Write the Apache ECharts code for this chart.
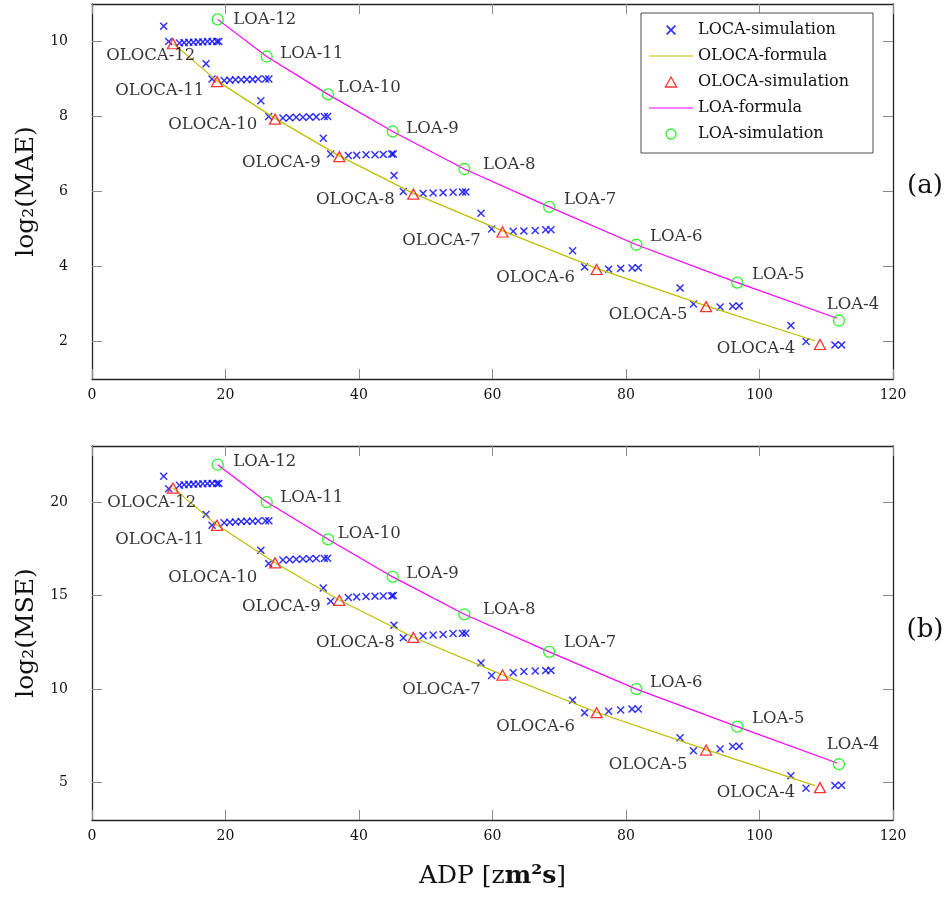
<!DOCTYPE html>
<html><head><meta charset="utf-8">
<script src="https://cdn.jsdelivr.net/npm/echarts@6/dist/echarts.min.js"></script>
<style>html,body{margin:0;padding:0;background:#fff}#c{width:948px;height:897px}</style>
</head><body><div id="c"></div>
<script>
// ---------------- data ----------------
const bits = [12, 11, 10, 9, 8, 7, 6, 5, 4];

const loaADP = [18.83, 26.17, 35.36, 45.05, 55.78, 68.5, 81.55, 96.67, 111.9];
const loaMAE = [10.59, 9.6, 8.59, 7.6, 6.6, 5.59, 4.58, 3.57, 2.56];
const loaMSE = [22, 20, 18.01, 16, 14, 11.99, 10, 7.99, 5.98];

const loaFormulaADP = [18.83, 26.17, 35.36, 45.05, 55.78, 68.5, 81.55, 96.67, 111.6];
const loaFormulaMAE = [10.59, 9.6, 8.59, 7.6, 6.6, 5.59, 4.58, 3.57, 2.62];
const loaFormulaMSE = [22, 20, 18.01, 16, 14, 11.99, 10, 7.99, 6.05];

const olocaADP = [12.13, 18.73, 27.42, 37.05, 48.14, 61.5, 75.6, 92.0, 109.06];
const olocaMAE = [9.94, 8.93, 7.93, 6.93, 5.93, 4.92, 3.92, 2.93, 1.92];
const olocaMSE = [20.75, 18.76, 16.75, 14.75, 12.76, 10.75, 8.74, 6.74, 4.73];

const olocaFormulaADP = [12.13, 18.73, 27.42, 37.05, 48.14, 61.5, 75.6, 92.0, 108.3];
const olocaFormulaMAE = [9.95, 8.95, 7.95, 6.95, 5.95, 4.95, 3.95, 2.95, 2.02];
const olocaFormulaMSE = [20.76, 18.77, 16.76, 14.76, 12.77, 10.76, 8.76, 6.76, 4.84];

const locaADP = [
  10.74, 11.49, 13.1, 13.8, 14.5, 15.2, 15.9, 16.6, 17.3, 18.0, 18.7, 19.0,
  17.08, 17.98, 19.8, 20.65, 21.5, 22.35, 23.2, 24.05, 24.9, 26.0, 26.5,
  25.3, 26.47, 28.6, 29.6, 30.6, 31.6, 32.6, 33.6, 34.8, 35.3,
  34.65, 35.76, 38.4, 39.65, 41.05, 42.4, 43.64, 44.9, 45.14,
  45.24, 46.64, 49.6, 51.1, 52.6, 54.1, 55.5, 56.0,
  58.28, 59.87, 63.1, 64.7, 66.4, 67.97, 68.76,
  72.0, 73.8, 77.4, 79.2, 80.9, 81.85,
  88.1, 90.1, 94.1, 95.98, 96.97,
  104.7, 106.97, 111.3, 112.3
];
const locaMAE = [
  10.41, 10.0, 9.96, 9.97, 9.98, 9.98, 9.99, 9.99, 10.0, 10.0, 10.0, 10.0,
  9.41, 9.0, 8.96, 8.97, 8.98, 8.98, 8.99, 8.99, 9.0, 9.0, 9.0,
  8.42, 8.0, 7.96, 7.97, 7.98, 7.98, 7.99, 7.99, 8.0, 8.0,
  7.42, 7.0, 6.96, 6.97, 6.98, 6.98, 6.99, 7.0, 7.0,
  6.43, 6.0, 5.95, 5.96, 5.97, 5.98, 5.99, 5.99,
  5.42, 5.0, 4.94, 4.95, 4.96, 4.98, 4.98,
  4.42, 3.99, 3.93, 3.95, 3.96, 3.97,
  3.43, 3.0, 2.92, 2.94, 2.95,
  2.43, 2.0, 1.91, 1.91
];
const locaMSE = [
  21.38, 20.71, 20.9, 20.93, 20.95, 20.96, 20.97, 20.98, 20.99, 21.0, 21.0, 21.0,
  19.34, 18.76, 18.9, 18.92, 18.94, 18.96, 18.97, 18.98, 18.99, 19.0, 19.0,
  17.42, 16.71, 16.9, 16.92, 16.94, 16.96, 16.97, 16.98, 16.99, 17.0,
  15.41, 14.7, 14.9, 14.93, 14.95, 14.97, 14.98, 14.99, 15.0,
  13.42, 12.74, 12.85, 12.89, 12.92, 12.97, 12.98, 12.99,
  11.4, 10.73, 10.88, 10.94, 10.97, 10.99, 11.0,
  9.41, 8.73, 8.82, 8.88, 8.93, 8.94,
  7.4, 6.7, 6.8, 6.93, 6.94,
  5.37, 4.7, 4.84, 4.86
];

const xTicks = [0, 20, 40, 60, 80, 100, 120];
const maeTicks = [2, 4, 6, 8, 10];
const mseTicks = [5, 10, 15, 20];

// ---------------- styles ----------------
const FONT = 'DejaVu Serif';
const TXT = '#111111';
const C_LOCA = '#0000ff', C_OF = '#bfbf00', C_OS = '#ff0000', C_LF = '#ff00ff', C_LS = '#00ee00';
const SYM_TRI = 11, SYM_CIR = 11, SYM_X = 8;
const CROSS = 'path://M0,1.3L1.3,0L5,3.7L8.7,0L10,1.3L6.3,5L10,8.7L8.7,10L5,6.3L1.3,10L0,8.7L3.7,5Z';
const TRI = 'path://M5,0L10,9L0,9Z';
const LINE_ICON = 'path://M0,0L44,0L44,1.2L0,1.2Z';

// label placement (px): [dx of label edge from marker centre, dy of label centre]
const olocaLabelShift = [
  [[23, 12], [-12, 9], [-17, 6], [-18, 6], [-18, 6], [-21, 9], [-21, 8], [-18, 8], [-24, 4]],
  [[24, 15], [-12, 14], [-17, 15], [-18, 6], [-18, 5], [-21, 15], [-21, 14], [-18, 15], [-24, 5]]
];
const loaLabelShift = [
  [[15, 0], [13, -3], [9, -7], [13, -3], [18, -4], [14, -7], [13, -8], [14, -8], [14, -16]],
  [[15, -3], [13, -4], [9, -6], [13, -3], [18, -5], [14, -9], [13, -6], [14, -8], [14, -19]]
];

function pts(xs, ys) { return xs.map((x, i) => [x, ys[i]]); }

function olocaData(ys, g) {
  return olocaADP.map((x, i) => ({
    name: 'OLOCA-' + bits[i],
    value: [x, ys[i]],
    label: { offset: [olocaLabelShift[g][i][0] + SYM_TRI / 2, olocaLabelShift[g][i][1]] }
  }));
}
function loaData(ys, g) {
  return loaADP.map((x, i) => {
    const s = loaLabelShift[g][i];
    const last = i === loaADP.length - 1;
    return {
      name: 'LOA-' + bits[i],
      value: [x, ys[i]],
      label: last
        ? { position: 'top', distance: 0, offset: [s[0], s[1] + 9 + SYM_CIR / 2] }
        : { position: 'right', distance: 0, offset: [s[0] - SYM_CIR / 2, s[1]] }
    };
  });
}

const labelStyle = { fontFamily: FONT, fontSize: 16.5, color: '#000000' };

function seriesFor(g, locaY, olocaY, olocaFY, loaY, loaFY) {
  return [
    { name: 'LOCA-simulation', type: 'scatter', xAxisIndex: 2 * g, yAxisIndex: 2 * g,
      symbol: CROSS, symbolSize: SYM_X, itemStyle: { color: C_LOCA, borderWidth: 0 },
      data: pts(locaADP, locaY), z: 2, silent: true },
    { name: 'OLOCA-formula', type: 'line', xAxisIndex: 2 * g, yAxisIndex: 2 * g,
      symbol: 'none', lineStyle: { color: C_OF, width: 1.2 }, itemStyle: { color: C_OF },
      data: pts(olocaFormulaADP, olocaFY), z: 3, silent: true },
    { name: 'OLOCA-simulation', type: 'scatter', xAxisIndex: 2 * g, yAxisIndex: 2 * g,
      symbol: TRI, symbolSize: [SYM_TRI, SYM_TRI - 1],
      itemStyle: { color: 'rgba(255,255,255,0)', borderColor: C_OS, borderWidth: 1.3 },
      label: Object.assign({ show: true, position: 'left', distance: 0, formatter: '{b}' }, labelStyle),
      data: olocaData(olocaY, g), z: 4, silent: true },
    { name: 'LOA-formula', type: 'line', xAxisIndex: 2 * g, yAxisIndex: 2 * g,
      symbol: 'none', lineStyle: { color: C_LF, width: 1.2 }, itemStyle: { color: C_LF },
      data: pts(loaFormulaADP, loaFY), z: 5, silent: true },
    { name: 'LOA-simulation', type: 'scatter', xAxisIndex: 2 * g, yAxisIndex: 2 * g,
      symbol: 'circle', symbolSize: SYM_CIR,
      itemStyle: { color: 'rgba(255,255,255,0)', borderColor: C_LS, borderWidth: 1.3 },
      label: Object.assign({ show: true, position: 'right', distance: 0, formatter: '{b}' }, labelStyle),
      data: loaData(loaY, g), z: 6, silent: true }
  ];
}

const frameLine = { show: true, onZero: false, lineStyle: { color: '#262626', width: 1.3 } };
const tickStyle = { show: true, inside: true, length: 10, lineStyle: { color: '#8a8a8a', width: 1 } };
const tickLabel = { fontFamily: FONT, fontSize: 14, color: TXT };

function xAxes(g, withName) {
  const base = { type: 'value', gridIndex: g, min: 0, max: 120, splitLine: { show: false }, axisLine: frameLine };
  return [
    Object.assign({}, base, {
      position: 'bottom',
      axisTick: Object.assign({ customValues: xTicks }, tickStyle),
      axisLabel: Object.assign({ customValues: xTicks, margin: 9 }, tickLabel),
      name: withName ? 'ADP [z{b|m²s}]' : '',
      nameLocation: 'middle', nameGap: 44,
      nameTextStyle: { fontFamily: FONT, fontSize: 25, color: TXT,
        rich: { b: { fontFamily: FONT, fontSize: 25, fontWeight: 'bold', color: TXT } } }
    }),
    Object.assign({}, base, {
      position: 'top',
      axisTick: Object.assign({ customValues: xTicks }, tickStyle),
      axisLabel: { show: false }
    })
  ];
}
function yAxes(g, min, max, ticks, name) {
  const base = { type: 'value', gridIndex: g, min: min, max: max, splitLine: { show: false }, axisLine: frameLine };
  return [
    Object.assign({}, base, {
      position: 'left',
      axisTick: Object.assign({ customValues: ticks }, tickStyle),
      axisLabel: Object.assign({ customValues: ticks, margin: 24 }, tickLabel),
      name: name, nameLocation: 'middle', nameGap: 52,
      nameTextStyle: { fontFamily: FONT, fontSize: 25, color: TXT }
    }),
    Object.assign({}, base, {
      position: 'right',
      axisTick: Object.assign({ customValues: ticks }, tickStyle),
      axisLabel: { show: false }
    })
  ];
}

const option = {
  backgroundColor: '#ffffff',
  animation: false,
  grid: [
    { left: 92, top: 4, width: 801, height: 375 },
    { left: 92, top: 446, width: 801, height: 374 }
  ],
  xAxis: xAxes(0, false).concat(xAxes(1, true)),
  yAxis: yAxes(0, 1, 11, maeTicks, 'log₂(MAE)').concat(yAxes(1, 3, 23, mseTicks, 'log₂(MSE)')),
  legend: {
    orient: 'vertical', left: 641, top: 13,
    padding: [9, 24, 11, 8], itemGap: 10, itemWidth: 44, itemHeight: 10, itemTextGap: 7,
    backgroundColor: '#ffffff', borderColor: '#4d4d4d', borderWidth: 1,
    textStyle: { fontFamily: FONT, fontSize: 16, color: TXT },
    selectedMode: false,
    data: [
      { name: 'LOCA-simulation', itemStyle: { borderWidth: 0 } },
      { name: 'OLOCA-formula', icon: LINE_ICON, itemStyle: { color: C_OF, borderWidth: 0 } },
      { name: 'OLOCA-simulation', icon: TRI, itemStyle: { color: 'rgba(255,255,255,0)', borderColor: C_OS, borderWidth: 1.3 } },
      { name: 'LOA-formula', icon: LINE_ICON, itemStyle: { color: C_LF, borderWidth: 0 } },
      { name: 'LOA-simulation', itemStyle: { color: 'rgba(255,255,255,0)', borderColor: C_LS, borderWidth: 1.3 } }
    ]
  },
  graphic: [
    { type: 'text', x: 925, y: 186, style: { text: '(a)', font: '26px "DejaVu Serif"', fill: TXT, align: 'center', verticalAlign: 'middle' } },
    { type: 'text', x: 925, y: 630, style: { text: '(b)', font: '26px "DejaVu Serif"', fill: TXT, align: 'center', verticalAlign: 'middle' } }
  ],
  series: seriesFor(0, locaMAE, olocaMAE, olocaFormulaMAE, loaMAE, loaFormulaMAE)
    .concat(seriesFor(1, locaMSE, olocaMSE, olocaFormulaMSE, loaMSE, loaFormulaMSE))
};

const chart = echarts.init(document.getElementById('c'), null, { renderer: 'canvas' });
chart.setOption(option);
</script>
</body></html>
